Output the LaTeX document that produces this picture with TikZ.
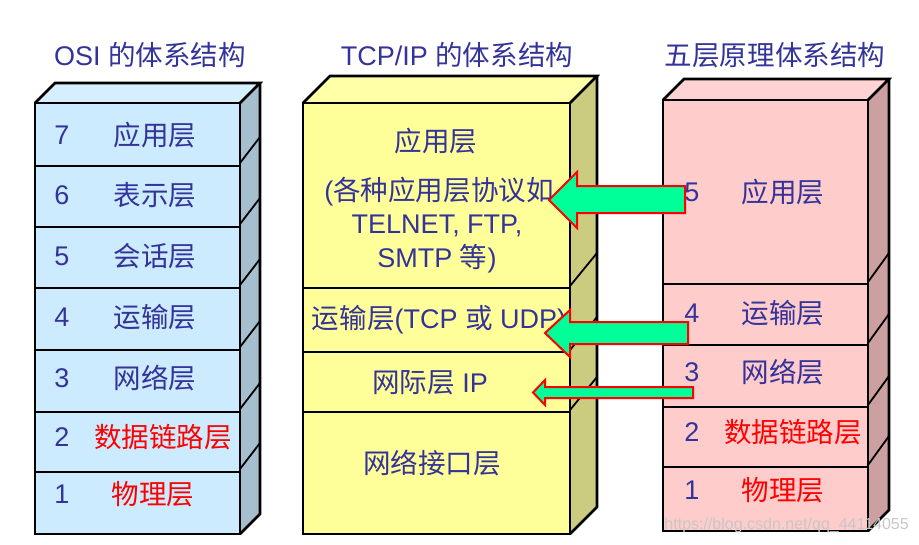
\documentclass[tikz,border=0pt]{standalone}
\usepackage{fontspec}
\setmainfont{Liberation Sans}
\newfontfamily\cjk{Noto Sans CJK SC}[Scale=1.02]
\newcommand\zh[1]{{\cjk #1}}
\definecolor{tblue}{HTML}{333399}
\definecolor{osifront}{HTML}{CCEBFF}
\definecolor{ositop}{HTML}{D6EFFF}
\definecolor{osiside}{HTML}{A5BFCF}
\definecolor{tcpfront}{HTML}{FFFF99}
\definecolor{tcptop}{HTML}{FFFFA8}
\definecolor{tcpside}{HTML}{CCCC80}
\definecolor{pfront}{HTML}{FFCCCC}
\definecolor{ptop}{HTML}{FFD3D3}
\definecolor{pside}{HTML}{CCA0A0}
\definecolor{agreen}{HTML}{00FF99}
\begin{document}
\begin{tikzpicture}[x=1pt,y=-1pt,
  outline/.style={line width=2.6pt, line join=miter},
  sep/.style={line width=1.8pt},
  lab/.style={text=tblue, inner sep=0pt, font=\fontsize{27}{29}\selectfont},
  redlab/.style={lab, text=red},
  title/.style={text=tblue, inner sep=0pt, font=\fontsize{27}{29}\selectfont},
  blockarrow/.style={fill=agreen, draw=red, line width=2pt, line join=miter}]
\useasboundingbox (0,0) rectangle (919,544);

% ---------- OSI stack ----------
\def\L{35}\def\R{240}\def\T{103}\def\B{534}\def\D{20}
\fill[osifront] (\L,\T) rectangle (\R,\B);
\fill[ositop] (\L,\T) -- (\L+\D,\T-\D) -- (\R+\D,\T-\D) -- (\R,\T) -- cycle;
\fill[osiside] (\R,\T) -- (\R+\D,\T-\D) -- (\R+\D,\B-\D) -- (\R,\B) -- cycle;
\foreach \y in {166,227,288,350,412,472}{
  \draw[sep] (\L,\y) -- (\R,\y);
  \draw[sep] (\R,\y-3) -- (\R+\D,\y-29);
}
\draw[outline] (\L,\T) rectangle (\R,\B);
\draw[outline] (\L,\T) -- (\L+\D,\T-\D) -- (\R+\D,\T-\D) -- (\R,\T);
\draw[outline] (\R+\D,\T-\D) -- (\R+\D,\B-\D) -- (\R,\B);

% ---------- TCP/IP stack ----------
\def\L{303}\def\R{570}\def\T{103}\def\B{534}\def\D{27}
\fill[tcpfront] (\L,\T) rectangle (\R,\B);
\fill[tcptop] (\L,\T) -- (\L+\D,\T-\D) -- (\R+\D,\T-\D) -- (\R,\T) -- cycle;
\fill[tcpside] (\R,\T) -- (\R+\D,\T-\D) -- (\R+\D,\B-\D) -- (\R,\B) -- cycle;
\foreach \y in {288,352,412}{
  \draw[sep] (\L,\y) -- (\R,\y);
  \draw[sep] (\R,\y-2) -- (\R+\D,\y-35);
}
\draw[outline] (\L,\T) rectangle (\R,\B);
\draw[outline] (\L,\T) -- (\L+\D,\T-\D) -- (\R+\D,\T-\D) -- (\R,\T);
\draw[outline] (\R+\D,\T-\D) -- (\R+\D,\B-\D) -- (\R,\B);

% ---------- five-layer stack ----------
\def\L{663}\def\R{868}\def\T{100}\def\B{531}\def\D{21}
\fill[pfront] (\L,\T) rectangle (\R,\B);
\fill[ptop] (\L,\T) -- (\L+\D,\T-\D) -- (\R+\D,\T-\D) -- (\R,\T) -- cycle;
\fill[pside] (\R,\T) -- (\R+\D,\T-\D) -- (\R+\D,\B-\D) -- (\R,\B) -- cycle;
\foreach \y in {284,345,407,467}{
  \draw[sep] (\L,\y) -- (\R,\y);
  \draw[sep] (\R,\y-2) -- (\R+\D,\y-31);
}
\draw[outline] (\L,\T) rectangle (\R,\B);
\draw[outline] (\L,\T) -- (\L+\D,\T-\D) -- (\R+\D,\T-\D) -- (\R,\T);
\draw[outline] (\R+\D,\T-\D) -- (\R+\D,\B-\D) -- (\R,\B);

% ---------- titles ----------
\node[title] (t1) at (150,55) {OSI \zh{的体系结构}};
\node[title] (t2) at (457,55) {TCP/IP \zh{的体系结构}};
\node[title] (t3) at (775,55) {\zh{五层原理体系结构}};

% ---------- OSI labels ----------
\node[lab] (o7n) at (62,135) {7};  \node[lab] (o7) at (155,135) {\zh{应用层}};
\node[lab] (o6n) at (62,195) {6};  \node[lab] (o6) at (155,195) {\zh{表示层}};
\node[lab] (o5n) at (62,256) {5};  \node[lab] (o5) at (155,256) {\zh{会话层}};
\node[lab] (o4n) at (62,317) {4};  \node[lab] (o4) at (155,317) {\zh{运输层}};
\node[lab] (o3n) at (62,378) {3};  \node[lab] (o3) at (155,378) {\zh{网络层}};
\node[lab] (o2n) at (62,437) {2};  \node[redlab] (o2) at (163,437) {\zh{数据链路层}};
\node[lab] (o1n) at (62,494) {1};  \node[redlab] (o1) at (153,494) {\zh{物理层}};

% ---------- TCP/IP labels ----------
\node[lab] (ta) at (436,141) {\zh{应用层}};
\node[lab] (tb) at (439,192) {(\zh{各种应用层协议如}};
\node[lab] (tc) at (437,226) {TELNET, FTP,};
\node[lab] (td) at (437,259) {SMTP \zh{等})};
\node[lab] (tt) at (439,320) {\zh{运输层}(TCP \zh{或} UDP)};
\node[lab] (ti) at (430,383) {\zh{网际层} IP};
\node[lab] (tn) at (432,463) {\zh{网络接口层}};

% ---------- five-layer labels ----------
\node[lab] (p5n) at (692,192) {5};  \node[lab] (p5) at (783,192) {\zh{应用层}};
\node[lab] (p4n) at (692,313) {4};  \node[lab] (p4) at (783,313) {\zh{运输层}};
\node[lab] (p3n) at (692,372) {3};  \node[lab] (p3) at (783,372) {\zh{网络层}};
\node[lab] (p2n) at (692,432) {2};  \node[redlab] (p2) at (793,432) {\zh{数据链路层}};
\node[lab] (p1n) at (692,490) {1};  \node[redlab] (p1) at (783,490) {\zh{物理层}};

% ---------- block arrows ----------
\draw[blockarrow] (685,186) -- (577,186) -- (577,172) -- (549,200) -- (577,228) -- (577,213) -- (685,213) -- cycle;
\draw[blockarrow] (688,322) -- (570,322) -- (570,310) -- (545,333) -- (570,357) -- (570,344) -- (688,344) -- cycle;
\draw[blockarrow] (693,387) -- (545,387) -- (545,380) -- (533,392.5) -- (545,405) -- (545,398) -- (693,398) -- cycle;

% ---------- watermark ----------
\node[text=black!22, inner sep=0pt, font=\fontsize{16}{18}\selectfont, anchor=east] (wm) at (909,525) {https://blog.csdn.net/qq\_44114055};
\end{tikzpicture}
\end{document}
